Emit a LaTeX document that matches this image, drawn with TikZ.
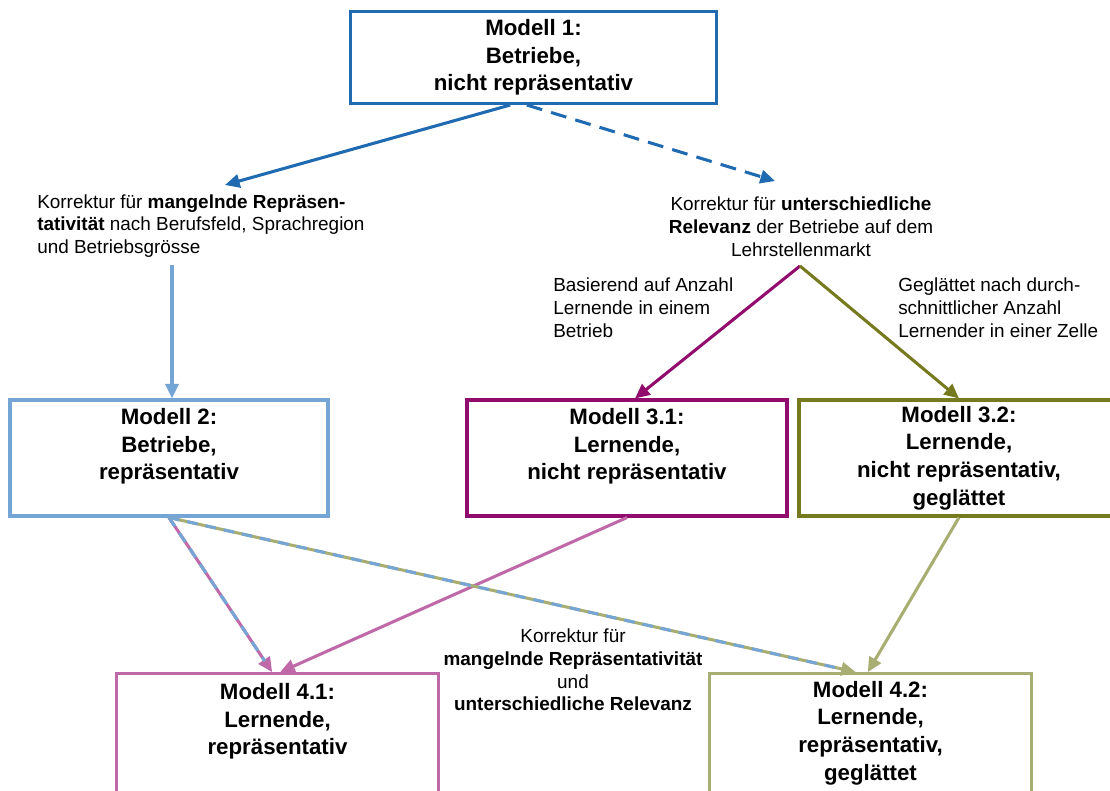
\documentclass[tikz,border=0pt]{standalone}
\usepackage{fontspec}
\setmainfont{Liberation Sans}
\usepackage{xcolor}
\usetikzlibrary{calc,arrows.meta,positioning}

\definecolor{dblue}{RGB}{31,106,176}
\definecolor{lblue}{RGB}{116,165,213}
\definecolor{dpurple}{RGB}{146,12,110}
\definecolor{dolive}{RGB}{118,122,30}
\definecolor{lpurple}{RGB}{191,105,168}
\definecolor{lolive}{RGB}{168,173,114}

\begin{document}
\begin{tikzpicture}[x=0.75pt, y=-0.75pt,
  box/.style = {draw=#1, line width=2.3pt, align=center, inner sep=0pt,
    font=\fontsize{16.7}{20.7}\selectfont\bfseries},
  txt/.style = {inner sep=0pt, font=\fontsize{14.2}{17.1}\selectfont},
  arr/.style = {-{Triangle[length=11pt,width=10pt]}, line width=2.3pt, #1},
  over/.style = {line width=2.3pt, #1, dash pattern=on 8pt off 6pt, shorten >=10pt}]
\clip (0,0) rectangle (1110,791);

\node (m1) [box=dblue, minimum width=275pt, minimum height=69pt] at (533.5,57.5)
  {Modell 1:\\Betriebe,\\nicht repräsentativ};
\node (m2) [box=lblue, minimum width=238.5pt, minimum height=87pt] at (169,458)
  {Modell 2:\\Betriebe,\\repräsentativ\\~};
\node (m31) [box=dpurple, minimum width=240pt, minimum height=87pt] at (627,458)
  {Modell 3.1:\\Lernende,\\nicht repräsentativ\\~};
\node (m32) [box=dolive, minimum width=240pt, minimum height=87pt] at (959,458)
  {Modell 3.2:\\Lernende,\\nicht repräsentativ,\\geglättet};
\node (m41) [box=lpurple, minimum width=241pt, minimum height=89pt] at (277.5,733)
  {Modell 4.1:\\Lernende,\\repräsentativ\\~};
\node (m42) [box=lolive, minimum width=241pt, minimum height=89pt] at (870.5,733)
  {Modell 4.2:\\Lernende,\\repräsentativ,\\geglättet};

\node (korrA) [txt, align=left, anchor=west] at (37,226)
  {Korrektur für \textbf{mangelnde Repräsen-}\\\textbf{tativität} nach Berufsfeld, Sprachregion\\und Betriebsgrösse};
\node (korrB) [txt, align=center] at (801,227)
  {Korrektur für \textbf{unterschiedliche}\\\textbf{Relevanz} der Betriebe auf dem\\Lehrstellenmarkt};
\node (basis) [txt, align=left, anchor=west] at (553,308)
  {Basierend auf Anzahl\\Lernende in einem\\Betrieb};
\node (glatt) [txt, align=left, anchor=west] at (898,308)
  {Geglättet nach durch-\\schnittlicher Anzahl\\Lernender in einer Zelle};
\node (korrC) [txt, align=center] at (573,670)
  {Korrektur für\\\textbf{mangelnde Repräsentativität}\\und\\\textbf{unterschiedliche Relevanz}};

\coordinate (tipA) at (225,185);
\coordinate (tipB) at (775,181);
\coordinate (startA) at (172,265);
\coordinate (apex) at (800,266);

\draw[arr=dblue] ([xshift=-17.5pt]m1.south) -- (tipA);
\draw[arr=dblue, dash pattern=on 12pt off 7pt] ([xshift=-5pt]m1.south) -- (tipB);
\draw[arr=lblue] (startA) -- (startA |- m2.north);
\draw[arr=dpurple] (apex) -- ([xshift=6pt]m31.north);
\draw[arr=dolive] (apex) -- (m32.north);

\draw[arr=lpurple] (m31.south) -- ([xshift=2pt]m41.north);
\draw[arr=lolive] (m32.south) -- ([xshift=-2pt]m42.north);
\draw[arr=lpurple] (m2.south) -- ([xshift=-4pt]m41.north);
\draw[over=lblue] (m2.south) -- ([xshift=-4pt]m41.north);
\draw[arr=lolive] (m2.south) -- ([xshift=-11pt]m42.north);
\draw[over=lblue] (m2.south) -- ([xshift=-11pt]m42.north);
\end{tikzpicture}
\end{document}
